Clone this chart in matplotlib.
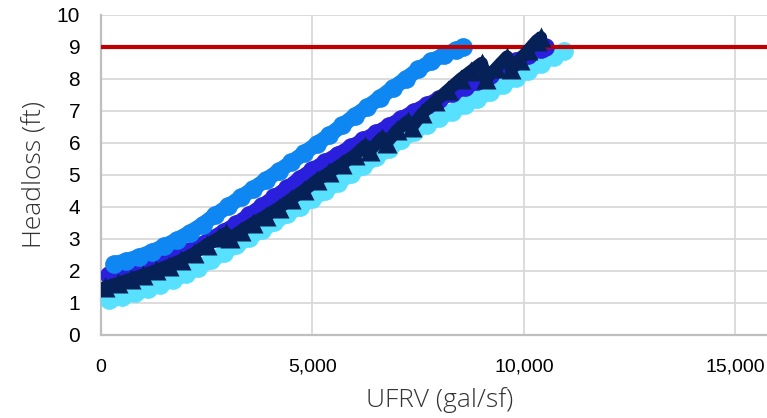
import numpy as np
import matplotlib.pyplot as plt
from matplotlib.ticker import FuncFormatter

# UFRV (gal/sf) and headloss (ft), one list pair per run
cyan_x = [200, 500, 800, 1100, 1400, 1700, 2000, 2300, 2600, 2900, 3200, 3500, 3800, 4100,
          4400, 4700, 5000, 5300, 5600, 5900, 6200, 6500, 6800, 7100, 7400, 7700, 8000, 8300,
          8600, 8900, 9200, 9500, 9800, 10100, 10400, 10700, 10950]
cyan_y = [1.08, 1.18, 1.30, 1.43, 1.57, 1.72, 1.90, 2.10, 2.33, 2.56, 2.80, 3.03, 3.27, 3.52,
          3.77, 4.01, 4.25, 4.50, 4.76, 5.02, 5.28, 5.55, 5.82, 6.08, 6.35, 6.57, 6.78, 6.98,
          7.18, 7.38, 7.60, 7.82, 8.04, 8.26, 8.48, 8.70, 8.88]

indigo_x = [200, 500, 800, 1100, 1400, 1700, 2000, 2300, 2600, 2900, 3200, 3500, 3800, 4100,
            4400, 4700, 5000, 5300, 5600, 5900, 6200, 6500, 6800, 7100, 7400, 7700, 8000, 8300,
            8600, 8900, 9200, 9500, 9800, 10100, 10400, 10500]
indigo_y = [1.87, 1.95, 2.04, 2.14, 2.26, 2.40, 2.58, 2.78, 3.00, 3.22, 3.46, 3.74, 4.02, 4.30,
            4.58, 4.88, 5.15, 5.40, 5.63, 5.86, 6.08, 6.30, 6.52, 6.75, 6.97, 7.18, 7.38, 7.56,
            7.74, 7.93, 8.12, 8.33, 8.55, 8.75, 8.95, 9.00]

blue_x = [300, 600, 900, 1200, 1500, 1800, 2100, 2400, 2700, 3000, 3300, 3600, 3900, 4200,
          4500, 4800, 5100, 5400, 5700, 6000, 6300, 6600, 6900, 7200, 7500, 7800, 8100, 8400, 8550]
blue_y = [2.22, 2.32, 2.45, 2.60, 2.78, 2.98, 3.20, 3.45, 3.75, 4.02, 4.30, 4.57, 4.85, 5.12,
          5.40, 5.68, 5.97, 6.25, 6.55, 6.85, 7.13, 7.42, 7.72, 8.00, 8.30, 8.55, 8.75, 8.92, 9.00]

navy_x = [100, 400, 700, 1000, 1300, 1600, 1900, 2200, 2500, 2800, 2950, 3050, 3300, 3600,
          3900, 4200, 4500, 4800, 5100, 5400, 5700, 6000, 6250, 6350, 6650, 6750, 7000, 7250,
          7350, 7600, 7900, 8200, 8500, 8750, 9000, 9100, 9350, 9600, 9700, 9900, 10100,
          10300, 10400]
navy_y = [1.50, 1.62, 1.75, 1.88, 2.02, 2.17, 2.34, 2.55, 2.82, 3.05, 3.18, 3.02, 3.25, 3.50,
          3.73, 3.97, 4.25, 4.52, 4.83, 5.08, 5.35, 5.62, 5.92, 5.75, 6.17, 6.00, 6.40, 6.68,
          6.50, 6.93, 7.30, 7.65, 8.00, 8.25, 8.50, 8.00, 8.35, 8.70, 8.30, 8.60, 8.90,
          9.20, 9.30]

limit_ft = 9

plt.rcParams['font.family'] = ['Liberation Sans', 'DejaVu Sans']

fig = plt.figure(figsize=(7.67, 4.18), dpi=100)
ax = fig.add_axes([101 / 767, 83 / 418, 666 / 767, 320 / 418])

# markers overlap into thick bands; a wide line behind them smooths the band
def band(x, y, color, z):
    ax.plot(x, y, '-', lw=11, color=color, solid_capstyle='round',
            solid_joinstyle='round', zorder=z)
    ax.plot(x, y, 'o', ms=13.5, color=color, mec='none', zorder=z)

band(cyan_x, cyan_y, '#57E1FF', 3)
band(indigo_x, indigo_y, '#2A1FDC', 4)
band(blue_x, blue_y, '#0F87F2', 5)
ax.axhline(limit_ft, color='#C00000', lw=3, zorder=6)
ax.plot(navy_x, navy_y, '-', lw=9, color='#062157', solid_capstyle='round', zorder=7)
ax.plot(navy_x, navy_y, '^', ms=15, color='#062157', mec='none', zorder=7)

ax.set_xlim(0, 15745)
ax.set_ylim(0, 10)
ax.set_xticks([0, 5000, 10000, 15000])
ax.set_yticks(range(0, 11))
ax.xaxis.set_major_formatter(FuncFormatter(lambda v, p: f'{int(v):,}'))
ax.tick_params(length=0, labelsize=14, colors='black')
ax.tick_params(axis='y', pad=15, labelsize=15)
ax.tick_params(axis='x', pad=17)

ax.grid(True, color='#D9D9D9', lw=1.3, zorder=0)
ax.set_axisbelow(True)
for s in ['top', 'right']:
    ax.spines[s].set_visible(False)
for s in ['left', 'bottom']:
    ax.spines[s].set_color('#BFBFBF')
    ax.spines[s].set_linewidth(1.6)

ax.set_xlabel('UFRV (gal/sf)', fontsize=19, family=['Open Sans', 'DejaVu Sans'],
              fontweight='light', color='#333333')
ax.set_ylabel('Headloss (ft)', fontsize=19, family=['Open Sans', 'DejaVu Sans'],
              fontweight='light', color='#333333')
ax.xaxis.set_label_coords(0.509, -0.162)
ax.yaxis.set_label_coords(-0.08, 0.5)

plt.savefig('out.png', dpi=100)
